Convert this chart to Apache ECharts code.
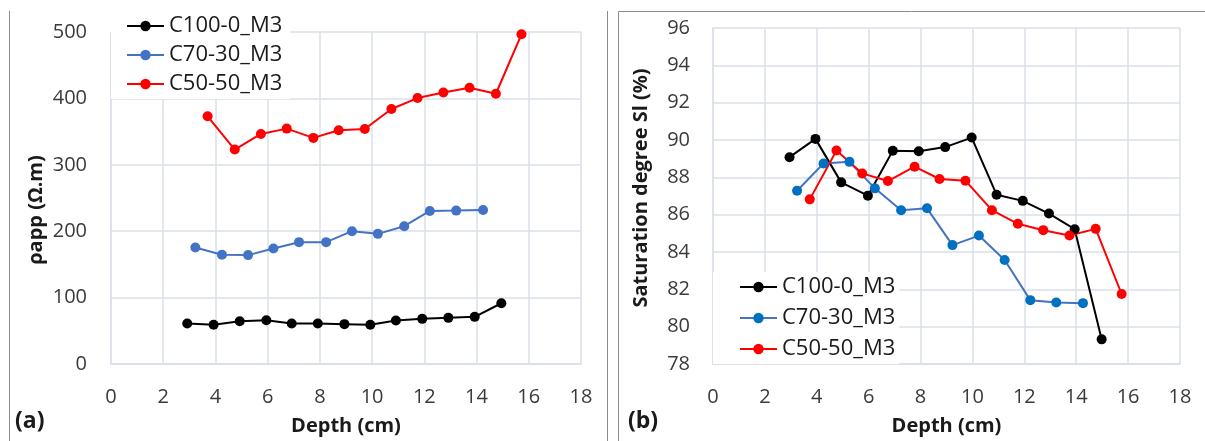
<!DOCTYPE html>
<html>
<head>
<meta charset="utf-8">
<script src="https://cdn.jsdelivr.net/npm/echarts@6/dist/echarts.min.js"></script>
<style>
html,body{margin:0;padding:0;background:#fff;}
#c{width:1205px;height:441px;}
</style>
</head>
<body>
<div id="c"></div>
<script>
// ---- data (a): apparent resistivity vs depth ----
const seriesNames = ['C100-0_M3', 'C70-30_M3', 'C50-50_M3'];
const depthTicks = [0, 2, 4, 6, 8, 10, 12, 14, 16, 18];

const depthA_C100 = [2.92, 3.93, 4.93, 5.95, 6.92, 7.92, 8.94, 9.93, 10.91, 11.92, 12.92, 13.93, 14.95];
const rho_C100    = [61, 59, 64.5, 66, 61, 61, 60, 59, 65.5, 68, 69.5, 71, 91.5];
const depthA_C70  = [3.23, 4.25, 5.25, 6.22, 7.2, 8.24, 9.23, 10.22, 11.23, 12.21, 13.22, 14.25];
const rho_C70     = [175.5, 164.5, 164, 174, 183.5, 183.5, 200, 196, 207.5, 230.5, 231, 232];
const depthA_C50  = [3.7, 4.74, 5.74, 6.73, 7.75, 8.72, 9.72, 10.74, 11.74, 12.73, 13.73, 14.74, 15.72];
const rho_C50     = [373, 323, 346.5, 354.5, 340.5, 352, 354, 384, 400.5, 409, 416, 407, 496.5];

// ---- data (b): saturation degree vs depth ----
const depthB_C100 = [2.95, 3.95, 4.94, 5.97, 6.93, 7.93, 8.95, 9.97, 10.93, 11.94, 12.95, 13.94, 14.98];
const sat_C100    = [89.08, 90.06, 87.73, 87.02, 89.42, 89.4, 89.62, 90.13, 87.07, 86.74, 86.06, 85.22, 79.32];
const depthB_C70  = [3.24, 4.26, 5.26, 6.24, 7.25, 8.25, 9.23, 10.25, 11.24, 12.23, 13.23, 14.26];
const sat_C70     = [87.28, 88.74, 88.83, 87.41, 86.24, 86.34, 84.37, 84.88, 83.57, 81.42, 81.29, 81.26];
const depthB_C50  = [3.73, 4.76, 5.75, 6.74, 7.77, 8.73, 9.73, 10.75, 11.75, 12.73, 13.74, 14.75, 15.75];
const sat_C50     = [86.82, 89.44, 88.21, 87.8, 88.57, 87.91, 87.82, 86.24, 85.51, 85.17, 84.88, 85.24, 81.75];

const pair = (xs, ys) => xs.map((x, i) => [x, ys[i]]);

const FONT = 'Open Sans';
const gridColor = '#dadfe8';
const tickColor = '#3a3a3a';

function xAxis(gridIndex) {
  return {
    type: 'value', gridIndex, min: 0, max: 18, interval: 2,
    name: 'Depth (cm)', nameLocation: 'middle', nameGap: 52,
    nameTextStyle: { fontFamily: FONT, fontSize: 20, fontWeight: 'bold', color: '#1a1a1a' },
    axisLine: { show: true, lineStyle: { color: gridColor, width: 1.5 } },
    axisTick: { show: false },
    axisLabel: { fontFamily: FONT, fontSize: 20, color: tickColor, margin: 23 },
    splitLine: { show: true, lineStyle: { color: gridColor, width: 1.5 } }
  };
}

function line(name, data, xi, color, lineColor) {
  return {
    type: 'line', name, xAxisIndex: xi, yAxisIndex: xi, data,
    symbol: 'circle', symbolSize: 10,
    itemStyle: { color },
    lineStyle: { color: lineColor || color, width: 2 },
    emphasis: { disabled: true },
    animation: false
  };
}

const legendCommon = {
  orient: 'vertical',
  backgroundColor: '#fff',
  itemWidth: 37, itemHeight: 13,
  textStyle: { fontFamily: FONT, fontSize: 22, color: '#1a1a1a' },
  z: 10
};

const chart = echarts.init(document.getElementById('c'));
chart.setOption({
  animation: false,
  grid: [
    { left: 111, top: 32, width: 470, height: 334 },
    { left: 713, top: 28, width: 467, height: 337 }
  ],
  xAxis: [xAxis(0), xAxis(1)],
  yAxis: [
    {
      type: 'value', gridIndex: 0, min: 0, max: 500, interval: 100,
      name: 'ρapp (Ω.m)', nameLocation: 'middle', nameGap: 65,
      nameTextStyle: { fontFamily: FONT, fontSize: 20, fontWeight: 'bold', color: '#1a1a1a', padding: [0, 24, 0, 0] },
      axisLine: { show: true, lineStyle: { color: gridColor, width: 1.5 } },
      axisTick: { show: false },
      axisLabel: { fontFamily: FONT, fontSize: 20, color: tickColor, margin: 24 },
      splitLine: { show: true, lineStyle: { color: gridColor, width: 1.5 } }
    },
    {
      type: 'value', gridIndex: 1, min: 78, max: 96, interval: 2,
      name: 'Saturation degree Sl (%)', nameLocation: 'middle', nameGap: 62,
      nameTextStyle: { fontFamily: FONT, fontSize: 20, fontWeight: 'bold', color: '#1a1a1a', padding: [0, 0, 0, 16] },
      axisLine: { show: true, lineStyle: { color: gridColor, width: 1.5 } },
      axisTick: { show: false },
      axisLabel: { fontFamily: FONT, fontSize: 20, color: tickColor, margin: 23 },
      splitLine: { show: true, lineStyle: { color: gridColor, width: 1.5 } }
    }
  ],
  legend: [
    Object.assign({}, legendCommon, {
      left: 111, top: 12, itemGap: 7, padding: [3, 8, 4, 15],
      data: [
        { name: seriesNames[0] },
        { name: seriesNames[1], itemStyle: { color: '#4472C4' }, lineStyle: { color: '#4472C4' } },
        { name: seriesNames[2] }
      ]
    }),
    Object.assign({}, legendCommon, {
      left: 713, top: 272, itemGap: 9, padding: [4, 4, 4, 26],
      data: [
        { name: seriesNames[0] },
        { name: seriesNames[1], itemStyle: { color: '#0070C0' }, lineStyle: { color: '#4472C4' } },
        { name: seriesNames[2] }
      ]
    })
  ],
  series: [
    line(seriesNames[0], pair(depthA_C100, rho_C100), 0, '#000000'),
    line(seriesNames[1], pair(depthA_C70, rho_C70), 0, '#4472C4'),
    line(seriesNames[2], pair(depthA_C50, rho_C50), 0, '#FF0000'),
    line(seriesNames[0], pair(depthB_C100, sat_C100), 1, '#000000'),
    line(seriesNames[1], pair(depthB_C70, sat_C70), 1, '#0070C0', '#4472C4'),
    line(seriesNames[2], pair(depthB_C50, sat_C50), 1, '#FF0000')
  ],
  graphic: [
    { type: 'line', shape: { x1: 9.5, y1: 11, x2: 9.5, y2: 441 }, style: { stroke: '#8c8c8c', lineWidth: 1 } },
    { type: 'line', shape: { x1: 607.5, y1: 11, x2: 607.5, y2: 441 }, style: { stroke: '#8c8c8c', lineWidth: 1 } },
    { type: 'line', shape: { x1: 618.5, y1: 11.5, x2: 618.5, y2: 441 }, style: { stroke: '#8c8c8c', lineWidth: 1 } },
    { type: 'line', shape: { x1: 618.5, y1: 11.5, x2: 1205, y2: 11.5 }, style: { stroke: '#8c8c8c', lineWidth: 1 } },
    { type: 'text', left: 15, top: 410, style: { text: '(a)', fontFamily: FONT, fontSize: 23, fontWeight: 'bold', fill: '#1a1a1a' } },
    { type: 'text', left: 628, top: 410, style: { text: '(b)', fontFamily: FONT, fontSize: 23, fontWeight: 'bold', fill: '#1a1a1a' } }
  ]
});
</script>
</body>
</html>
